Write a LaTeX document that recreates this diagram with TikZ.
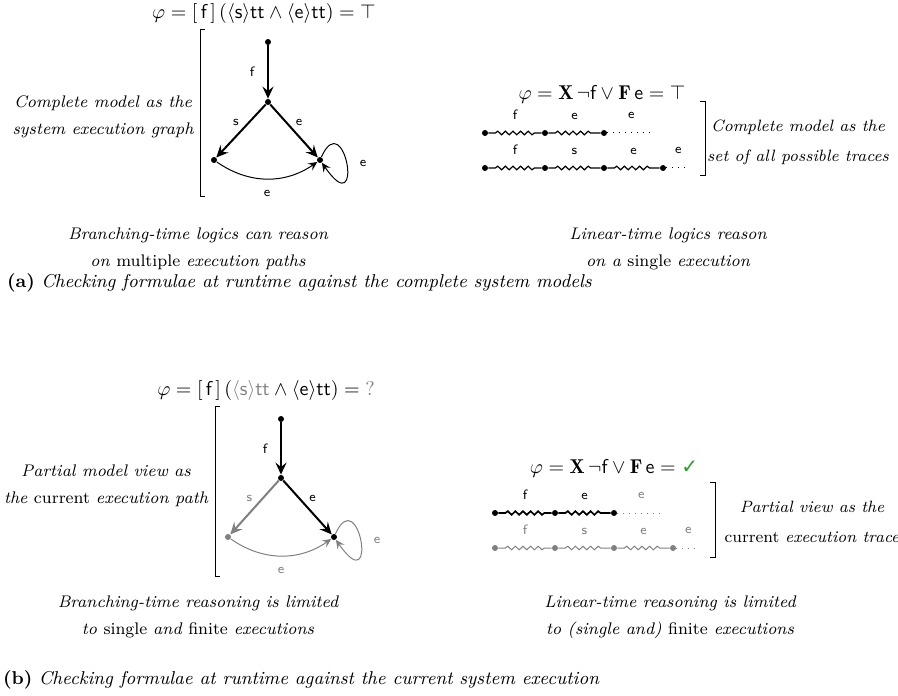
\documentclass[tikz,border=0pt]{standalone}
\usepackage{amsmath,amssymb}
\usepackage{fontspec}
\newfontfamily\symfont{DejaVu Sans}
\usetikzlibrary{arrows.meta,decorations.pathmorphing}
\definecolor{lgray}{gray}{0.5}
\definecolor{ckgreen}{RGB}{40,160,40}
\begin{document}
\begin{tikzpicture}[x=0.5pt,y=-0.5pt,
  dotn/.style={circle,fill,inner sep=0pt,minimum size=3pt},
  elab/.style={font=\sffamily\fontsize{6.8}{7}\selectfont},
  txt/.style={font=\itshape\fontsize{8.4}{13.5}\selectfont,align=center},
  rtxt/.style={font=\itshape\fontsize{8.2}{15}\selectfont,align=center},
  fml/.style={font=\fontsize{10}{11}\selectfont},
  capt/.style={font=\fontsize{9.3}{11}\selectfont,anchor=base west},
  bigarr/.style={line width=1pt,-{Stealth[length=6pt,width=5.5pt,inset=2.2pt]}},
  thinarr/.style={line width=0.5pt,-{Stealth[length=4.5pt,width=4.2pt,inset=1.8pt]}},
  wavy/.style={decorate,decoration={snake,segment length=3.8pt,amplitude=0.9pt,pre length=3.5pt,post length=3.5pt}},
  dottl/.style={line width=0.5pt,dash pattern=on 0.4pt off 2.6pt},
  brk/.style={line width=0.5pt}
]
\useasboundingbox (0,0) rectangle (898,695);

% ================= (a) left: branching =================
\node[fml] (fa) at (264,14) {$\varphi = [\,\mathsf{f}\,]\,(\langle\mathsf{s}\rangle\mathsf{tt}\wedge\langle\mathsf{e}\rangle\mathsf{tt}) = \top$};
\draw[brk] (205,30) -- (200,30) -- (200,197) -- (205,197);
\node[txt] (ta) at (103,117) {Complete model as the\\system execution graph};

\node[dotn] (a0) at (268,42) {};
\node[dotn] (a1) at (268,102) {};
\node[dotn] (a2) at (214,160) {};
\node[dotn] (a3) at (320,160) {};
\draw[bigarr] (a0) -- node[elab,left=3pt] {f} (a1);
\draw[bigarr] (a1) -- node[elab,xshift=-2.5pt,yshift=4.5pt] {s} (a2);
\draw[bigarr] (a1) -- node[elab,xshift=2.5pt,yshift=4.5pt] {e} (a3);
\draw[thinarr] (a2) to[bend right=35] node[elab,below=2pt] {e} (a3);
\draw[thinarr] (a3) .. controls (345,105) and (365,225) .. node[elab,right=3pt] {e} (a3);

\node[txt] (ca) at (198,248.5) {Branching-time logics can reason\\on \upshape multiple \itshape execution paths};

% ================= (a) right: linear =================
\node[fml] (fb) at (602,94) {$\varphi = \mathbf{X}\,\neg\mathsf{f}\vee\mathbf{F}\,\mathsf{e} = \top$};
\node[dotn] (p1) at (485,133) {};
\node[dotn] (p2) at (545,133) {};
\node[dotn] (p3) at (604,133) {};
\coordinate (p4) at (655,133);
\draw[line width=0.6pt,wavy] (p1) -- node[elab,above=3pt] {f} (p2);
\draw[line width=0.6pt,wavy] (p2) -- node[elab,above=3pt] {e} (p3);
\draw[dottl] (p3) -- node[elab,above=3.5pt] {e} (p4);

\node[dotn] (q1) at (485,168) {};
\node[dotn] (q2) at (545,168) {};
\node[dotn] (q3) at (604,168) {};
\node[dotn] (q4) at (663,168) {};
\coordinate (q5) at (690,168);
\draw[line width=0.6pt,wavy] (q1) -- node[elab,above=3pt] {f} (q2);
\draw[line width=0.6pt,wavy] (q2) -- node[elab,above=3pt] {s} (q3);
\draw[line width=0.6pt,wavy] (q3) -- node[elab,above=3pt] {e} (q4);
\draw[dottl] (q4) -- node[elab,above=3.5pt] {e} (q5);

\draw[brk] (700,102) -- (705,102) -- (705,176) -- (700,176);
\node[rtxt] (tb) at (798,142) {Complete model as the\\set of all possible traces};

\node[txt] (cb) at (668,248.5) {Linear-time logics reason\\on a \upshape single \itshape execution};

\node[capt] (capa) at (0,287) {\textbf{(a)} \textit{Checking formulae at runtime against the complete system models}};

% ================= (b) left: branching =================
\node[fml] (fc) at (266,390) {$\varphi = [\,\mathsf{f}\,]\,(\textcolor{lgray}{\langle\mathsf{s}\rangle\mathsf{tt}}\wedge\langle\mathsf{e}\rangle\mathsf{tt}) = \textcolor{lgray}{\mathit{?}}$};
\draw[brk] (220,406) -- (215,406) -- (215,576) -- (220,576);
\node[txt] (tc) at (106,486) {Partial model view as\\the \upshape current \itshape execution path};

\node[dotn] (b0) at (281,419) {};
\node[dotn] (b1) at (281,478) {};
\node[dotn,lgray] (b2) at (228,537) {};
\node[dotn] (b3) at (334,537) {};
\draw[bigarr] (b0) -- node[elab,left=3pt] {f} (b1);
\draw[bigarr,lgray] (b1) -- node[elab,xshift=-2.5pt,yshift=4.5pt] {s} (b2);
\draw[bigarr] (b1) -- node[elab,xshift=2.5pt,yshift=4.5pt] {e} (b3);
\draw[thinarr,lgray] (b2) to[bend right=35] node[elab,below=2pt] {e} (b3);
\draw[thinarr,lgray] (b3) .. controls (359,482) and (379,602) .. node[elab,right=3pt] {e} (b3);

\node[txt] (cc) at (198,617) {Branching-time reasoning is limited\\to \upshape single \itshape and \upshape finite \itshape executions};

% ================= (b) right: linear =================
\node[fml] (fd) at (614,468) {$\varphi = \mathbf{X}\,\neg\mathsf{f}\vee\mathbf{F}\,\mathsf{e} = \text{\color{ckgreen}\symfont ✓}$};
\node[dotn] (r1) at (495,513) {};
\node[dotn] (r2) at (555,513) {};
\node[dotn] (r3) at (614,513) {};
\coordinate (r4) at (665,513);
\draw[line width=0.85pt,wavy] (r1) -- node[elab,above=3pt] {f} (r2);
\draw[line width=0.85pt,wavy] (r2) -- node[elab,above=3pt] {e} (r3);
\draw[dottl,lgray] (r3) -- node[elab,above=3.5pt] {e} (r4);

\begin{scope}[lgray]
\node[dotn] (s1) at (495,548) {};
\node[dotn] (s2) at (555,548) {};
\node[dotn] (s3) at (614,548) {};
\node[dotn] (s4) at (673,548) {};
\coordinate (s5) at (700,548);
\draw[line width=0.5pt,wavy] (s1) -- node[elab,above=3pt] {f} (s2);
\draw[line width=0.5pt,wavy] (s2) -- node[elab,above=3pt] {s} (s3);
\draw[line width=0.5pt,wavy] (s3) -- node[elab,above=3pt] {e} (s4);
\draw[dottl] (s4) -- node[elab,above=3.5pt] {e} (s5);
\end{scope}

\draw[brk] (710,482) -- (715,482) -- (715,557) -- (710,557);
\node[rtxt] (td) at (812,522) {Partial view as the\\\upshape current \itshape execution trace};

\node[txt] (cd) at (670,617) {Linear-time reasoning is limited\\to (single and) \upshape finite \itshape executions};

\node[capt] (capb) at (-4,684) {\textbf{(b)} \textit{Checking formulae at runtime against the current system execution}};
\end{tikzpicture}
\end{document}
